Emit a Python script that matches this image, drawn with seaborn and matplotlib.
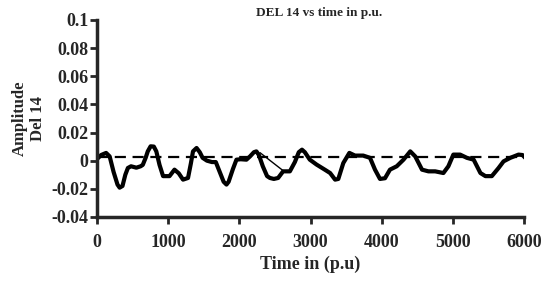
import matplotlib
matplotlib.use("Agg")
import matplotlib.pyplot as plt
import seaborn as sns
import pandas as pd

time = [0, 60, 130, 180, 235, 290, 320, 360, 400, 436, 480, 555, 615, 645, 685, 715,
        755, 800, 835, 880, 930, 1020, 1090, 1150, 1210, 1280, 1320, 1350, 1400, 1445,
        1485, 1545, 1615, 1670, 1725, 1780, 1820, 1850, 1910, 1960, 2020, 2100, 2150,
        2205, 2240, 2275, 2330, 2390, 2430, 2485, 2545, 2615, 2710, 2780, 2835, 2880,
        2920, 2990, 3085, 3200, 3275, 3345, 3390, 3460, 3545, 3625, 3740, 3835, 3905,
        3975, 4045, 4115, 4210, 4305, 4400, 4470, 4565, 4655, 4750, 4865, 4935, 5005,
        5100, 5195, 5290, 5385, 5455, 5545, 5640, 5710, 5805, 5920, 5975, 6040]
amplitude = [0.001, 0.004, 0.0055, 0.003, -0.008, -0.017, -0.0192, -0.018, -0.010, -0.0052,
             -0.004, -0.005, -0.004, -0.003, 0.002, 0.0066, 0.0102, 0.010, 0.0066, -0.003,
             -0.011, -0.011, -0.0064, -0.009, -0.0135, -0.0123, -0.002, 0.0066, 0.009, 0.006,
             0.002, 0.0, -0.001, -0.001, -0.008, -0.015, -0.017, -0.015, -0.006, 0.0007,
             0.001, 0.0007, 0.003, 0.006, 0.0066, 0.004, -0.004, -0.011, -0.0123, -0.013,
             -0.0123, -0.0076, -0.0076, -0.001, 0.006, 0.0078, 0.006, 0.0007, -0.0028,
             -0.0064, -0.0088, -0.0135, -0.013, -0.0017, 0.0055, 0.0036, 0.0036, 0.002,
             -0.0064, -0.013, -0.0125, -0.0064, -0.004, 0.0007, 0.0066, 0.003, -0.0064,
             -0.0076, -0.0076, -0.0088, -0.004, 0.0043, 0.0043, 0.002, 0.0007, -0.0088,
             -0.011, -0.011, -0.0052, -0.0005, 0.002, 0.0043, 0.004, 0.0007]
thin_time = [2290, 2615]
thin_amp = [0.0057, -0.0071]
ref_time = [0, 6000]
ref_amp = [0.0025, 0.0025]

xticks = [0, 1000, 2000, 3000, 4000, 5000, 6000]
yticks = [-0.04, -0.02, 0, 0.02, 0.04, 0.06, 0.08, 0.1]
ytick_labels = ["-0.04", "-0.02", "0", "0.02", "0.04", "0.06", "0.08", "0.1"]

sns.set_style("ticks")
plt.rcParams['font.family'] = ['Liberation Serif', 'DejaVu Serif']
plt.rcParams['font.weight'] = 'bold'
plt.rcParams['axes.unicode_minus'] = False

df = pd.DataFrame({"time": time, "amp": amplitude})
df_thin = pd.DataFrame({"time": thin_time, "amp": thin_amp})
df_ref = pd.DataFrame({"time": ref_time, "amp": ref_amp})

fig = plt.figure(figsize=(5.41, 2.81), dpi=100)
ax = fig.add_axes([0.179, 0.228, 0.790, 0.701])

sns.lineplot(data=df_ref, x="time", y="amp", ax=ax, color="black", lw=1.6,
             linestyle=(0, (5, 3)), estimator=None, sort=False)
sns.lineplot(data=df, x="time", y="amp", ax=ax, color="black", lw=3.0,
             estimator=None, sort=False)
sns.lineplot(data=df_thin, x="time", y="amp", ax=ax, color="black", lw=1.0,
             estimator=None, sort=False)

ax.set_xlim(0, 6000)
ax.set_ylim(-0.04, 0.1)
ax.set_xticks(xticks)
ax.set_xticklabels([str(v) for v in xticks])
ax.set_yticks(yticks)
ax.set_yticklabels(ytick_labels)
ax.tick_params(axis='both', direction='out', length=5, width=2, labelsize=13, pad=1)
ax.tick_params(axis='x', pad=7)
for lab in ax.get_xticklabels() + ax.get_yticklabels():
    lab.set_fontweight('bold')
for s in ['top', 'right']:
    ax.spines[s].set_visible(False)
for s in ['left', 'bottom']:
    ax.spines[s].set_linewidth(2.5)

ax.set_xlabel("Time in (p.u)", fontsize=13, fontweight='bold', labelpad=4)
ax.set_ylabel("Amplitude\nDel 14", fontsize=12, fontweight='bold', labelpad=4, linespacing=1.15)
ax.set_title("DEL 14 vs time in p.u.", fontsize=9.5, fontweight='bold', pad=3, x=0.52)

fig.savefig("out.png", dpi=100)
